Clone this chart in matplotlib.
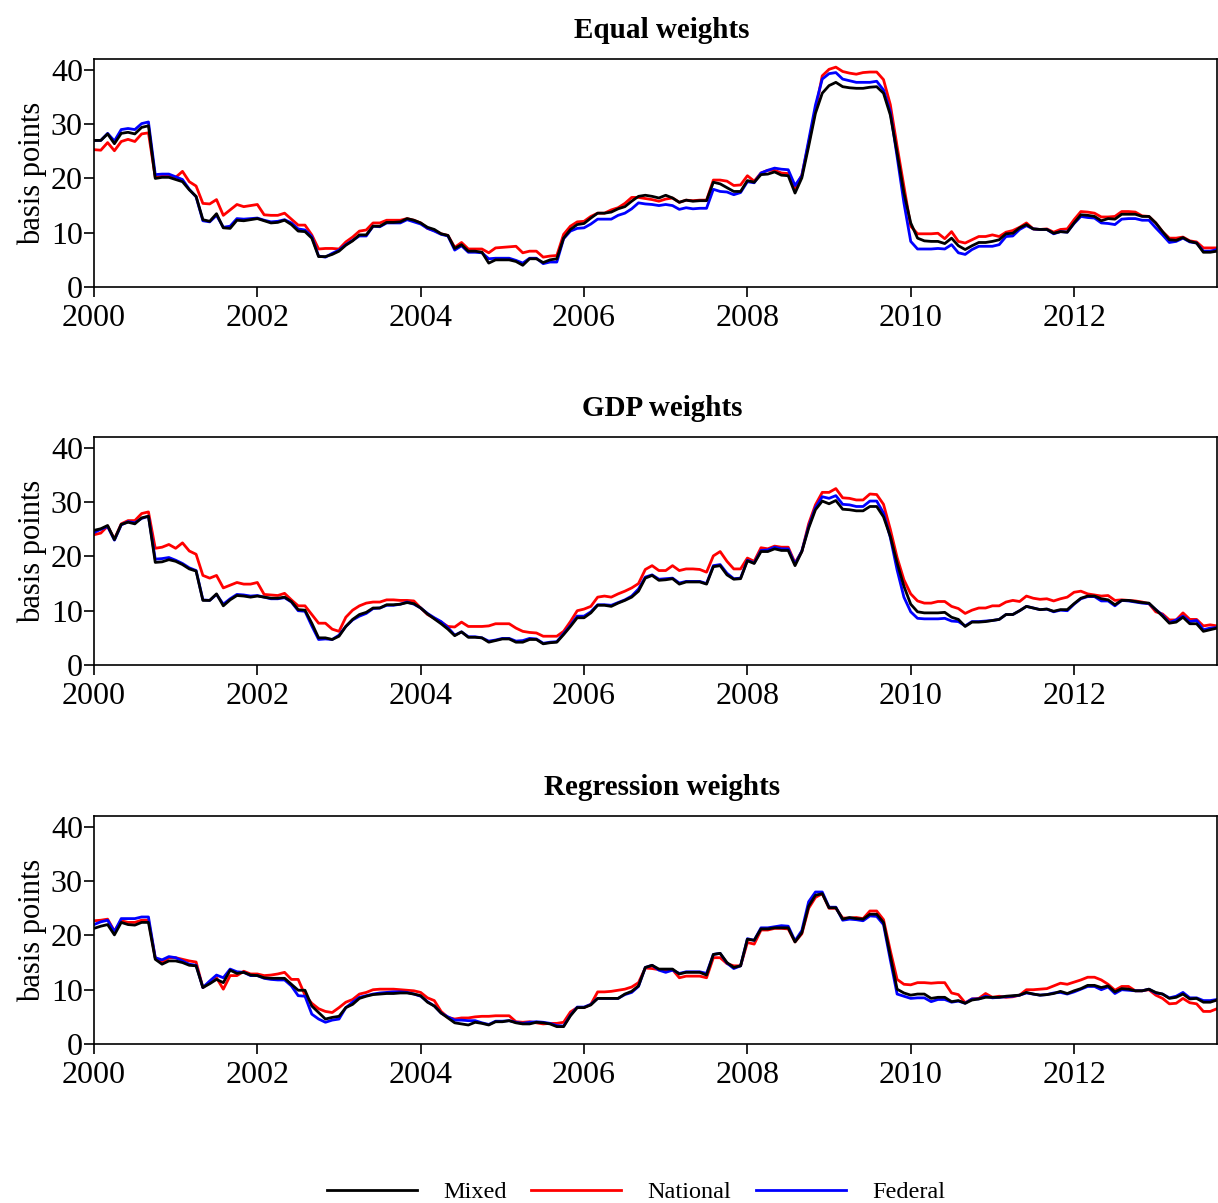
import numpy as np
import matplotlib
matplotlib.use("Agg")
import matplotlib.pyplot as plt

plt.rcParams['font.family'] = ['Liberation Serif', 'DejaVu Serif']

# monthly series, Jan 2000 onwards (basis points)
start_year = 2000

eq_mixed = [27.0, 27.0, 28.2, 26.4, 28.3, 28.5, 28.2, 29.4, 29.7, 20.0,
            20.2, 20.2, 19.8, 19.4, 17.9, 16.7, 12.4, 12.1, 13.5, 10.9,
            10.8, 12.3, 12.2, 12.4, 12.6, 12.2, 11.8, 11.9, 12.3, 11.5,
            10.3, 10.2, 9.0, 5.6, 5.6, 6.0, 6.6, 7.7, 8.5, 9.6,
            9.6, 11.2, 11.2, 11.9, 11.9, 12.0, 12.6, 12.3, 11.8, 11.0,
            10.6, 9.8, 9.5, 7.1, 7.8, 6.6, 6.6, 6.4, 4.4, 5.0,
            5.0, 5.0, 4.7, 4.0, 5.2, 5.2, 4.5, 5.0, 5.2, 9.0,
            10.6, 11.5, 11.7, 12.7, 13.6, 13.6, 13.8, 14.4, 14.8, 15.8,
            16.7, 16.9, 16.7, 16.4, 16.9, 16.4, 15.6, 16.0, 15.8, 15.9,
            15.9, 19.3, 19.0, 18.3, 17.6, 17.6, 19.6, 19.3, 20.7, 20.8,
            21.2, 20.6, 20.5, 17.3, 20.1, 25.9, 32.0, 35.7, 37.1, 37.7,
            36.9, 36.7, 36.6, 36.6, 36.8, 36.9, 35.7, 31.7, 24.7, 17.3,
            11.8, 9.0, 8.5, 8.4, 8.4, 8.0, 9.0, 7.6, 6.9, 7.6,
            8.2, 8.2, 8.4, 8.7, 9.8, 9.9, 10.9, 11.5, 10.7, 10.6,
            10.6, 9.9, 10.2, 10.1, 11.8, 13.3, 13.2, 13.0, 12.2, 12.6,
            12.5, 13.4, 13.4, 13.4, 13.0, 13.0, 11.8, 10.2, 8.7, 8.6,
            9.1, 8.4, 8.1, 6.4, 6.4, 6.6]

eq_national = [25.3, 25.2, 26.6, 25.1, 26.8, 27.2, 26.8, 28.2, 28.4, 20.2,
               20.4, 20.5, 20.2, 21.3, 19.4, 18.6, 15.4, 15.3, 16.1, 13.2,
               14.2, 15.2, 14.8, 15.0, 15.2, 13.3, 13.2, 13.2, 13.6, 12.5,
               11.4, 11.4, 9.6, 7.0, 7.1, 7.1, 7.0, 8.3, 9.2, 10.3,
               10.5, 11.8, 11.8, 12.3, 12.3, 12.3, 12.6, 12.3, 11.8, 10.8,
               10.4, 9.8, 9.5, 7.3, 8.2, 7.0, 7.0, 7.0, 6.3, 7.2,
               7.3, 7.4, 7.5, 6.3, 6.6, 6.6, 5.5, 5.7, 5.8, 9.7,
               11.2, 12.0, 12.1, 13.0, 13.6, 13.6, 14.2, 14.6, 15.4, 16.5,
               16.5, 16.3, 16.1, 15.8, 16.2, 16.4, 15.6, 16.0, 15.9, 16.0,
               16.0, 19.7, 19.7, 19.5, 18.7, 18.8, 20.5, 19.5, 21.0, 21.5,
               21.5, 21.0, 20.9, 18.2, 20.6, 26.5, 32.6, 38.9, 40.1, 40.5,
               39.7, 39.4, 39.2, 39.5, 39.6, 39.6, 38.2, 33.6, 25.9, 18.5,
               11.2, 9.8, 9.8, 9.8, 9.9, 8.9, 10.2, 8.4, 8.1, 8.7,
               9.3, 9.3, 9.6, 9.3, 10.1, 10.4, 11.0, 11.8, 10.7, 10.6,
               10.7, 10.1, 10.6, 10.7, 12.4, 13.9, 13.8, 13.6, 12.9, 12.9,
               13.0, 13.9, 13.9, 13.8, 13.1, 13.0, 11.8, 10.2, 9.0, 9.0,
               9.2, 8.5, 8.3, 7.2, 7.2, 7.2]

eq_federal = [27.0, 27.0, 28.3, 26.9, 29.0, 29.2, 29.0, 30.1, 30.4, 20.7,
              20.8, 20.8, 20.3, 19.8, 18.0, 16.6, 12.2, 12.0, 13.2, 11.0,
              11.2, 12.6, 12.5, 12.6, 12.7, 12.3, 12.0, 12.1, 12.4, 11.8,
              10.7, 10.5, 9.3, 5.7, 5.5, 6.2, 6.8, 7.8, 8.6, 9.4,
              9.4, 11.2, 11.1, 11.8, 11.8, 11.8, 12.4, 12.0, 11.6, 10.8,
              10.3, 9.7, 9.4, 6.8, 7.6, 6.4, 6.4, 6.3, 5.2, 5.3,
              5.3, 5.3, 4.9, 4.4, 5.3, 5.3, 4.3, 4.6, 4.6, 8.9,
              10.3, 10.8, 10.9, 11.6, 12.5, 12.5, 12.5, 13.2, 13.6, 14.4,
              15.5, 15.3, 15.2, 15.0, 15.2, 15.0, 14.3, 14.6, 14.4, 14.5,
              14.5, 18.0, 17.6, 17.5, 17.0, 17.4, 19.4, 19.2, 21.0, 21.5,
              21.9, 21.7, 21.6, 18.7, 20.5, 27.0, 33.5, 38.3, 39.3, 39.5,
              38.3, 38.0, 37.7, 37.7, 37.7, 37.9, 36.3, 32.3, 24.0, 15.5,
              8.4, 7.0, 7.0, 7.0, 7.1, 7.0, 7.8, 6.3, 6.0, 6.9,
              7.5, 7.5, 7.5, 7.8, 9.3, 9.4, 10.6, 11.3, 10.7, 10.6,
              10.6, 9.8, 10.2, 10.1, 11.7, 13.0, 12.8, 12.7, 11.8, 11.7,
              11.5, 12.5, 12.6, 12.6, 12.3, 12.3, 10.9, 9.6, 8.2, 8.4,
              9.0, 8.3, 8.1, 6.6, 6.6, 6.9]

gdp_mixed = [24.8, 25.1, 25.7, 23.1, 25.9, 26.3, 26.0, 27.1, 27.4, 18.9,
             19.0, 19.4, 19.1, 18.5, 17.7, 17.3, 11.9, 11.9, 13.1, 10.9,
             12.0, 12.8, 12.7, 12.5, 12.7, 12.5, 12.3, 12.3, 12.5, 11.7,
             10.2, 10.1, 7.7, 5.0, 5.0, 4.7, 5.3, 7.1, 8.4, 9.3,
             9.7, 10.5, 10.5, 11.1, 11.1, 11.2, 11.5, 11.3, 10.5, 9.4,
             8.5, 7.6, 6.6, 5.4, 6.1, 5.1, 5.1, 5.0, 4.2, 4.5,
             4.8, 4.8, 4.2, 4.2, 4.7, 4.7, 3.9, 4.1, 4.2, 5.6,
             7.1, 8.7, 8.7, 9.6, 11.0, 11.0, 10.8, 11.4, 11.9, 12.5,
             13.6, 16.0, 16.5, 15.6, 15.7, 15.9, 14.9, 15.3, 15.3, 15.3,
             14.9, 18.1, 18.3, 16.6, 15.8, 15.9, 19.2, 18.7, 20.9, 20.9,
             21.4, 21.1, 21.1, 18.3, 20.9, 25.2, 28.6, 30.2, 29.7, 30.3,
             28.7, 28.6, 28.4, 28.4, 29.2, 29.2, 27.3, 23.7, 18.8, 14.5,
             11.2, 9.8, 9.6, 9.6, 9.6, 9.7, 8.8, 8.4, 7.1, 7.9,
             7.9, 8.0, 8.2, 8.4, 9.3, 9.3, 10.0, 10.8, 10.5, 10.2,
             10.3, 9.9, 10.2, 10.2, 11.3, 12.3, 12.7, 12.7, 12.2, 12.0,
             11.1, 11.9, 11.9, 11.7, 11.5, 11.4, 10.2, 9.0, 7.7, 7.9,
             8.8, 7.6, 7.6, 6.2, 6.5, 6.8]

gdp_national = [24.0, 24.3, 25.6, 23.2, 26.0, 26.6, 26.6, 27.9, 28.2, 21.5,
                21.7, 22.2, 21.5, 22.5, 21.0, 20.4, 16.5, 16.0, 16.5, 14.2,
                14.7, 15.2, 14.9, 14.9, 15.2, 13.0, 12.9, 12.8, 13.2, 12.0,
                10.9, 10.9, 9.3, 7.7, 7.7, 6.6, 6.2, 8.8, 10.1, 10.9,
                11.4, 11.6, 11.6, 12.0, 12.0, 11.9, 11.9, 11.8, 10.5, 9.3,
                8.6, 7.9, 7.1, 7.0, 7.9, 7.1, 7.1, 7.1, 7.2, 7.6,
                7.6, 7.6, 6.8, 6.2, 6.0, 5.9, 5.3, 5.3, 5.3, 6.2,
                8.0, 10.0, 10.3, 10.8, 12.5, 12.7, 12.5, 13.1, 13.6, 14.2,
                15.0, 17.6, 18.3, 17.4, 17.4, 18.3, 17.4, 17.7, 17.7, 17.6,
                17.1, 20.1, 20.9, 19.1, 17.7, 17.7, 19.7, 19.1, 21.6, 21.4,
                21.9, 21.7, 21.7, 18.8, 20.9, 26.0, 29.5, 31.8, 31.8, 32.5,
                30.8, 30.7, 30.4, 30.4, 31.5, 31.4, 29.6, 25.0, 19.8, 15.7,
                13.1, 11.8, 11.4, 11.4, 11.7, 11.7, 10.8, 10.4, 9.5, 10.1,
                10.5, 10.5, 10.9, 10.9, 11.6, 11.9, 11.7, 12.7, 12.3, 12.1,
                12.2, 11.8, 12.2, 12.5, 13.4, 13.6, 13.1, 12.9, 12.7, 12.8,
                11.9, 12.0, 11.9, 11.8, 11.6, 11.3, 9.8, 9.4, 8.3, 8.3,
                9.6, 8.4, 8.4, 7.2, 7.4, 7.2]

gdp_federal = [24.4, 25.0, 25.5, 23.0, 25.8, 26.4, 26.2, 27.0, 27.4, 19.5,
               19.6, 19.8, 19.3, 18.7, 17.9, 17.4, 12.0, 11.9, 13.0, 11.2,
               12.2, 13.0, 12.9, 12.7, 12.8, 12.5, 12.2, 12.2, 12.4, 11.6,
               10.0, 9.9, 7.2, 4.7, 4.8, 4.7, 5.5, 7.1, 8.3, 9.0,
               9.5, 10.4, 10.5, 11.0, 11.0, 11.2, 11.6, 11.2, 10.5, 9.5,
               8.7, 8.0, 6.9, 5.5, 6.1, 5.2, 5.2, 5.0, 4.4, 4.6,
               4.9, 4.9, 4.4, 4.5, 4.9, 4.8, 4.0, 4.2, 4.3, 5.8,
               7.3, 9.0, 9.0, 9.8, 11.1, 11.1, 11.0, 11.5, 12.0, 12.7,
               14.0, 16.2, 16.6, 15.8, 15.9, 16.0, 15.1, 15.4, 15.4, 15.4,
               15.0, 18.3, 18.5, 16.9, 15.9, 16.0, 19.3, 18.8, 21.1, 21.2,
               21.7, 21.4, 21.4, 18.6, 21.0, 25.5, 29.0, 31.0, 30.7, 31.2,
               29.6, 29.5, 29.2, 29.2, 30.2, 30.2, 28.0, 23.5, 17.5, 12.5,
               9.8, 8.6, 8.5, 8.5, 8.5, 8.6, 8.1, 8.0, 7.2, 8.0,
               8.0, 8.1, 8.2, 8.4, 9.3, 9.3, 10.0, 10.8, 10.5, 10.2,
               10.3, 9.8, 10.1, 10.0, 11.2, 12.2, 12.6, 12.6, 11.8, 11.8,
               10.9, 11.9, 11.8, 11.6, 11.4, 11.3, 10.2, 9.2, 7.8, 8.3,
               9.0, 8.0, 8.2, 6.5, 6.8, 6.9]

reg_mixed = [21.3, 21.7, 22.0, 20.1, 22.4, 22.0, 21.9, 22.4, 22.4, 15.6,
             14.7, 15.3, 15.3, 15.0, 14.5, 14.4, 10.4, 11.1, 11.9, 11.3,
             13.6, 13.0, 13.2, 12.7, 12.6, 12.2, 12.1, 12.1, 12.1, 11.0,
             9.9, 9.9, 7.0, 5.8, 4.6, 4.9, 5.1, 6.7, 7.3, 8.4,
             8.8, 9.1, 9.2, 9.3, 9.3, 9.4, 9.4, 9.2, 8.9, 7.7,
             7.0, 5.7, 4.8, 3.9, 3.7, 3.5, 4.0, 3.8, 3.5, 4.1,
             4.1, 4.3, 3.9, 3.7, 3.7, 4.0, 3.9, 3.7, 3.2, 3.2,
             5.2, 6.7, 6.7, 7.2, 8.4, 8.4, 8.4, 8.4, 9.2, 9.7,
             10.7, 14.1, 14.5, 13.8, 13.8, 13.8, 12.9, 13.2, 13.2, 13.2,
             12.7, 16.5, 16.7, 15.0, 14.1, 14.4, 19.3, 19.1, 21.2, 21.2,
             21.4, 21.4, 21.4, 18.8, 20.5, 25.4, 27.4, 27.7, 25.1, 25.1,
             23.0, 23.3, 23.1, 23.0, 23.9, 23.9, 22.4, 16.2, 10.1, 9.4,
             9.0, 9.2, 9.2, 8.4, 8.6, 8.6, 7.8, 8.0, 7.5, 8.1,
             8.3, 8.6, 8.6, 8.6, 8.8, 8.9, 9.0, 9.5, 9.2, 9.0,
             9.1, 9.3, 9.7, 9.3, 9.8, 10.2, 10.8, 10.8, 10.4, 10.7,
             9.6, 10.2, 10.1, 9.8, 9.8, 10.1, 9.5, 9.2, 8.4, 8.6,
             9.2, 8.3, 8.4, 7.7, 7.7, 8.1]

reg_national = [22.7, 22.8, 23.0, 20.8, 22.7, 22.4, 22.4, 22.8, 22.8, 15.9,
                15.0, 15.9, 15.9, 15.6, 15.3, 15.1, 10.4, 11.3, 12.2, 10.1,
                12.6, 12.6, 13.4, 12.9, 12.9, 12.6, 12.7, 12.9, 13.2, 11.9,
                11.9, 9.0, 7.5, 6.5, 6.0, 5.8, 6.7, 7.7, 8.2, 9.2,
                9.5, 10.0, 10.1, 10.1, 10.1, 10.0, 9.9, 9.8, 9.5, 8.5,
                8.0, 6.0, 4.9, 4.6, 4.8, 4.8, 5.0, 5.1, 5.1, 5.2,
                5.2, 5.2, 4.1, 4.0, 4.1, 3.9, 3.7, 3.8, 3.8, 4.0,
                5.9, 6.7, 6.7, 7.3, 9.6, 9.6, 9.7, 9.9, 10.1, 10.5,
                11.3, 14.0, 13.9, 13.7, 13.7, 13.7, 12.2, 12.5, 12.5, 12.5,
                12.2, 15.9, 15.9, 14.8, 14.4, 14.4, 18.7, 18.4, 21.0, 21.0,
                21.3, 21.3, 21.2, 18.8, 20.3, 25.0, 27.0, 27.7, 25.0, 25.0,
                23.2, 23.2, 23.3, 23.1, 24.5, 24.5, 22.9, 17.2, 11.9, 11.0,
                10.9, 11.3, 11.3, 11.2, 11.3, 11.3, 9.4, 9.1, 7.6, 8.3,
                8.4, 9.3, 8.6, 8.8, 8.6, 8.7, 9.0, 10.0, 10.0, 10.1,
                10.2, 10.7, 11.2, 11.0, 11.4, 11.8, 12.3, 12.3, 11.8, 11.0,
                9.9, 10.6, 10.6, 9.8, 9.8, 10.0, 9.0, 8.4, 7.4, 7.5,
                8.4, 7.6, 7.4, 6.0, 6.0, 6.5]

reg_federal = [22.0, 22.5, 22.8, 20.7, 23.1, 23.1, 23.1, 23.4, 23.4, 15.9,
               15.5, 16.1, 15.9, 15.3, 14.7, 14.5, 10.4, 11.6, 12.7, 12.2,
               13.8, 13.3, 13.2, 12.6, 12.6, 12.1, 11.9, 11.8, 11.8, 10.7,
               8.9, 8.8, 5.5, 4.6, 4.0, 4.4, 4.6, 6.7, 7.7, 8.6,
               8.9, 9.2, 9.4, 9.5, 9.6, 9.6, 9.5, 9.2, 8.8, 7.8,
               7.0, 5.7, 5.0, 4.4, 4.4, 4.3, 4.3, 3.9, 3.6, 4.2,
               4.2, 4.3, 4.0, 3.8, 4.0, 4.1, 4.0, 3.8, 3.4, 3.3,
               5.3, 6.8, 6.8, 7.3, 8.4, 8.4, 8.4, 8.4, 9.1, 9.5,
               10.6, 14.1, 14.5, 13.6, 13.2, 13.6, 13.0, 13.3, 13.3, 13.3,
               13.0, 16.5, 16.7, 14.9, 13.9, 14.4, 19.4, 19.1, 21.4, 21.4,
               21.6, 21.8, 21.7, 19.0, 20.9, 26.2, 28.0, 28.0, 25.2, 25.2,
               22.8, 23.0, 22.9, 22.7, 23.6, 23.5, 22.0, 15.5, 9.2, 8.8,
               8.4, 8.5, 8.5, 7.8, 8.2, 8.2, 7.7, 7.9, 7.5, 8.3,
               8.3, 8.8, 8.5, 8.6, 8.7, 8.8, 9.0, 9.4, 9.2, 9.0,
               9.1, 9.4, 9.5, 9.2, 9.6, 10.1, 10.6, 10.6, 10.0, 10.5,
               9.3, 10.0, 9.9, 9.8, 9.8, 10.1, 9.4, 9.2, 8.5, 8.8,
               9.5, 8.5, 8.5, 8.0, 8.0, 8.2]

titles = ["Equal weights", "GDP weights", "Regression weights"]
panels = [(eq_mixed, eq_national, eq_federal),
          (gdp_mixed, gdp_national, gdp_federal),
          (reg_mixed, reg_national, reg_federal)]
series_names = ["Mixed", "National", "Federal"]
colors = ["black", "red", "blue"]

W, H = 1218, 1203
fig = plt.figure(figsize=(W / 100, H / 100), dpi=100)

left = 94 / W
width = (W - 1 - 94) / W
bottoms_px = [287, 665, 1044]
height = 228 / H

n = len(eq_mixed)
t = start_year + np.arange(n) / 12.0

for k, (title, series) in enumerate(zip(titles, panels)):
    ax = fig.add_axes([left, 1 - bottoms_px[k] / H, width, height])
    # national first so mixed sits on top
    for idx in [1, 2, 0]:
        ax.plot(t, series[idx], color=colors[idx], lw=2.0, label=series_names[idx])
    ax.set_xlim(t[0], t[-1])
    ax.set_ylim(0, 42)
    ax.set_yticks([0, 10, 20, 30, 40])
    ax.set_xticks(np.arange(2000, 2014, 2))
    ax.tick_params(axis='both', direction='out', length=7, width=1.2,
                   labelsize=23, pad=1)
    ax.tick_params(axis='x', pad=5)
    ax.set_ylabel("basis points", fontsize=22, labelpad=3)
    ax.set_title(title, fontsize=21, fontweight='bold', pad=15, x=0.506)
    for s in ax.spines.values():
        s.set_linewidth(1.2)
    if k == 0:
        handles, labels = ax.get_legend_handles_labels()

order = [labels.index(nm) for nm in series_names]
fig.legend([handles[i] for i in order], series_names, loc='center',
           bbox_to_anchor=(636 / W, 1 - 1192 / H), ncol=3, frameon=False,
           fontsize=17.5, handlelength=3.7, handletextpad=1.1,
           columnspacing=1.0)

fig.savefig("out.png", dpi=100)
